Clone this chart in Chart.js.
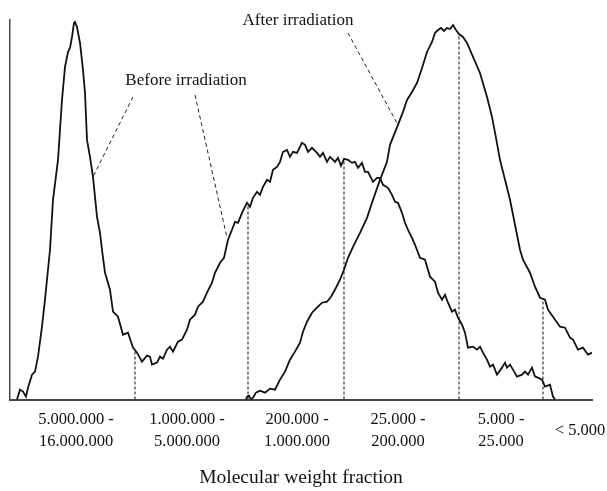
<!DOCTYPE html>
<html>
<head>
<meta charset="utf-8">
<title>Molecular weight fraction</title>
<script src="https://cdn.jsdelivr.net/npm/chart.js@4.4.0/dist/chart.umd.min.js"></script>
<style>
  html, body { margin: 0; padding: 0; background: #fff; }
  canvas { display: block; }
</style>
</head>
<body>
<canvas id="mwChart" width="607" height="491"></canvas>
<script>
// elution position (arbitrary units) vs detector signal
const beforeIrradiation = [
  [7,0],[10,10],[13,8],[16,3],[18,12],[22,25],[25,28],[28,43],[32,73],[35,100],
  [40,150],[43,200],[48,240],[52,300],[55,333],[58,348],[60,352],[62,363],[64,377],[65,378],
  [67,373],[70,357],[73,330],[75,307],[77,260],[80,243],[83,223],[87,183],[90,167],[92,150],
  [95,127],[100,110],[103,88],[108,83],[113,65],[118,67],[123,52],[127,47],[132,38],[137,44],
  [140,43],[142,35],[147,37],[150,43],[153,41],[157,50],[160,53],[163,48],[168,58],[172,60],
  [177,70],[180,80],[185,85],[188,93],[193,98],[197,107],[202,117],[205,127],[210,137],[214,142],
  [218,160],[222,170],[225,178],[228,177],[232,187],[237,197],[240,193],[243,202],[247,208],[250,205],
  [253,213],[257,220],[260,218],[263,230],[267,233],[270,238],[273,248],[277,250],[280,243],[283,248],
  [287,247],[292,257],[295,255],[298,248],[302,252],[307,247],[310,243],[313,247],[317,238],[320,243],
  [325,238],[328,242],[331,234],[334,241],[338,240],[342,237],[345,238],[348,232],[352,237],[355,228],
  [358,228],[363,218],[367,222],[370,222],[373,215],[378,212],[382,205],[385,198],[388,197],[392,187],
  [395,177],[398,170],[402,162],[405,155],[410,142],[415,140],[420,123],[425,118],[428,107],[432,100],
  [435,105],[438,97],[442,88],[445,90],[448,82],[452,75],[455,67],[458,52],[463,53],[467,50],
  [470,53],[473,47],[477,40],[480,33],[483,35],[487,25],[492,32],[495,37],[497,32],[500,35],
  [503,30],[507,23],[512,25],[515,28],[518,25],[522,32],[525,23],[528,22],[532,20],[535,13],
  [540,15],[543,3],[545,0]
];

const afterIrradiation = [
  [236,0],[237,3],[239,4],[241,0],[243,2],[246,7],[250,9],[255,7],[260,11],[265,10],
  [270,20],[275,28],[280,40],[285,48],[290,57],[293,68],[297,78],[302,87],[307,92],[312,97],
  [317,98],[321,103],[326,112],[330,120],[334,130],[338,142],[343,153],[350,167],[357,182],[363,200],
  [370,220],[377,238],[380,255],[384,265],[388,275],[393,288],[397,300],[402,308],[407,317],[412,332],
  [417,348],[422,358],[425,367],[428,370],[431,372],[434,369],[437,372],[440,371],[443,375],[446,370],
  [449,366],[453,363],[457,357],[463,343],[470,327],[477,303],[482,283],[486,262],[490,240],[495,220],
  [500,200],[505,175],[510,150],[513,140],[520,127],[525,113],[530,102],[535,100],[538,90],[543,83],
  [550,73],[555,72],[560,62],[563,60],[568,50],[573,52],[578,45],[582,47]
];

// fraction cut positions and the height of the trace where each cut meets it
const cutPositions = [125, 238, 334, 449, 533];
const cutHeights = [50, 195, 240, 366, 100];

// fraction labels, centred between the cuts
const fractionPositions = [66, 177, 287, 388, 491, 570];
const fractionLabels = [
  ["5.000.000 -", "16.000.000"],
  ["1.000.000 -", "5.000.000"],
  ["200.000 -", "1.000.000"],
  ["25.000 -", "200.000"],
  ["5.000 -", "25.000"],
  "< 5.000"
];

// callout texts and their leader lines
const callouts = [
  { text: "Before irradiation", x: 176, y: 315 },
  { text: "After irradiation", x: 288, y: 375 }
];
const leaders = [
  [[123, 303], [83, 223]],
  [[185, 305], [217, 162]],
  [[338, 367], [388, 275]]
];

const toPoints = (arr) => arr.map((p) => ({ x: p[0], y: p[1] }));

const SERIF = "'Liberation Serif', 'Times New Roman', serif";

const datasets = [
  {
    data: toPoints(beforeIrradiation),
    borderColor: "#111",
    borderWidth: 1.8,
  },
  {
    data: toPoints(afterIrradiation),
    borderColor: "#111",
    borderWidth: 1.8,
  },
];

// dashed vertical cuts
cutPositions.forEach((x, i) => {
  datasets.push({
    data: [{ x, y: 0 }, { x, y: cutHeights[i] }],
    borderColor: "#333",
    borderWidth: 1.2,
    borderDash: [3, 2],
  });
});

// dashed leader lines to the curves
leaders.forEach((l) => {
  datasets.push({
    data: toPoints(l),
    borderColor: "#222",
    borderWidth: 1,
    borderDash: [4, 3],
  });
});

const calloutPlugin = {
  id: "callouts",
  afterDatasetsDraw(chart) {
    const { ctx, scales } = chart;
    ctx.save();
    ctx.fillStyle = "#111";
    ctx.font = "17px " + SERIF;
    ctx.textAlign = "center";
    ctx.textBaseline = "alphabetic";
    callouts.forEach((c) => {
      ctx.fillText(c.text, scales.x.getPixelForValue(c.x), scales.y.getPixelForValue(c.y));
    });
    ctx.restore();
  },
};

new Chart(document.getElementById("mwChart").getContext("2d"), {
  type: "line",
  data: { datasets },
  options: {
    responsive: false,
    animation: false,
    devicePixelRatio: 1,
    layout: { padding: { top: 20, left: 10, right: 15, bottom: 0 } },
    elements: {
      point: { radius: 0 },
      line: { tension: 0, fill: false },
    },
    plugins: {
      legend: { display: false },
      tooltip: { enabled: false },
    },
    scales: {
      x: {
        type: "linear",
        min: 0,
        max: 582,
        // invisible tick marks push the labels down without widening the margins
        grid: { display: false, drawTicks: true, tickLength: 20 },
        border: { display: true, color: "#444", width: 2 },
        afterBuildTicks: (scale) => {
          scale.ticks = fractionPositions.map((v) => ({ value: v }));
        },
        ticks: {
          autoSkip: false,
          maxRotation: 0,
          padding: 0,
          crossAlign: "center",
          color: "#111",
          font: { family: SERIF, size: 16.5, lineHeight: 1.333 },
          callback: (value, index) => fractionLabels[index],
        },
        title: {
          display: true,
          text: "Molecular weight fraction",
          color: "#111",
          font: { family: SERIF, size: 19.5, lineHeight: 1.2 },
          padding: { top: 3, bottom: 1 },
        },
      },
      y: {
        min: 0,
        max: 380,
        grid: { display: false, drawTicks: false },
        border: { display: true, color: "#444", width: 1.5 },
        ticks: { display: false },
      },
    },
  },
  plugins: [calloutPlugin],
});
</script>
</body>
</html>
